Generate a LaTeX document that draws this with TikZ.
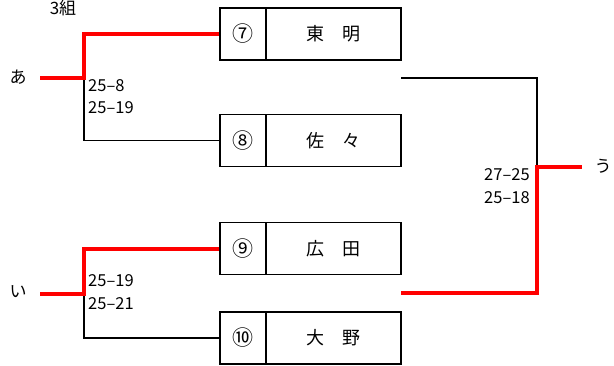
\documentclass[tikz,border=0pt]{standalone}
\usepackage{fontspec}
\setmainfont{Noto Sans CJK JP}
\begin{document}
\begin{tikzpicture}[x=1pt,y=-1pt,
  cell/.style={draw=black,line width=1.6pt,minimum height=52pt,inner sep=0pt,font=\fontsize{18}{18}\selectfont},
  numcell/.style={cell,minimum width=46pt,font=\fontsize{21}{21}\selectfont},
  namecell/.style={cell,minimum width=135pt},
  win/.style={draw=red,line width=4pt},
  lose/.style={draw=black,line width=1.3pt},
  score/.style={anchor=west,inner sep=0pt,font=\fontsize{16.5}{16.5}\selectfont},
  lbl/.style={inner sep=0pt,font=\fontsize{17}{17}\selectfont}]
\useasboundingbox (0,0) rectangle (614,365);
% boxes
\node[numcell] (n7) at (243,34) {⑦};
\node[namecell] (t7) at (333.5,34) {東\hspace{1em}明};
\node[numcell] (n8) at (243,140.5) {⑧};
\node[namecell] (t8) at (333.5,140.5) {佐\hspace{1em}々};
\node[numcell] (n9) at (243,248.5) {⑨};
\node[namecell] (t9) at (333.5,248.5) {広\hspace{1em}田};
\node[numcell] (n10) at (243,338) {⑩};
\node[namecell] (t10) at (333.5,338) {大\hspace{1em}野};
% labels
\node[lbl] (title) at (63,8) {3組};
\node[lbl] (a) at (18,77) {あ};
\node[lbl] (i) at (18,292) {い};
\node[lbl] (u) at (603,166) {う};
% junctions
\coordinate (j1) at (84,78);
\coordinate (j2) at (84,294);
\coordinate (f1) at (401,78);
\coordinate (f2) at (401,293);
\coordinate (j3) at (537,167);
\coordinate (e1) at (40,78);
\coordinate (e2) at (40,294);
\coordinate (e3) at (582,167);
% first match
\draw[lose] (j1) |- (n8.west);
\draw[win] (e1) -- (j1) |- (n7.west);
% second match
\draw[lose] (j2) |- (n10.west);
\draw[win] (e2) -- (j2) |- (n9.west);
% final
\draw[lose] (f1) -| (j3);
\draw[win] (f2) -| (j3) -- (e3);
% scores
\node[score] (s1) at (88,86) {25–8};
\node[score] (s2) at (88,108) {25–19};
\node[score] (s3) at (88,281) {25–19};
\node[score] (s4) at (88,304) {25–21};
\node[score] (s5) at (484,175) {27–25};
\node[score] (s6) at (484,198) {25–18};
\end{tikzpicture}
\end{document}
